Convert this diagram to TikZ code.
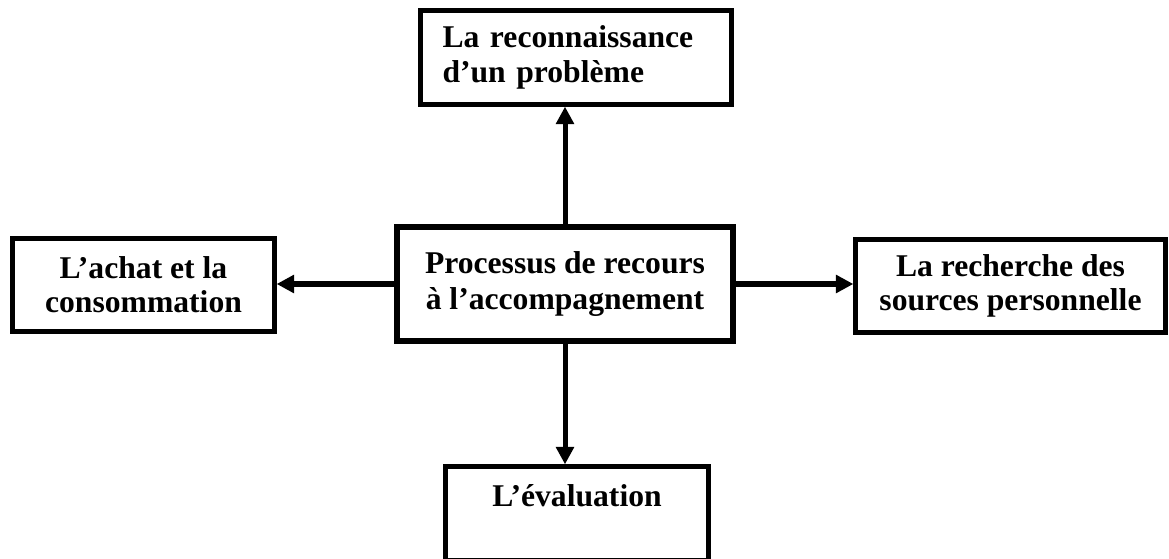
\documentclass[tikz,border=0pt]{standalone}
\usepackage{fontspec}
\setmainfont{Liberation Serif}
\usetikzlibrary{arrows.meta}

\begin{document}
\begin{tikzpicture}[
        stage/.style={draw, line width=2.45pt, inner sep=0pt, align=center,
            font=\bfseries\fontsize{18}{19.5}\selectfont},
        link/.style={line width=2.85pt, -{Triangle[length=10pt, width=10pt]}}
    ]
        \clip (0, 0) rectangle (23.38, 11.16);

        \node[stage, line width=3.1pt, minimum width=6.72cm, minimum height=2.28cm,
            font=\bfseries\fontsize{18}{21}\selectfont] (proc) at (11.30, 5.48) {Processus de recours\\à l’accompagnement};

        \node[stage, align=left, text width=5.34cm, inner xsep=0.44cm, minimum height=1.88cm] (recog) at (11.52, 10.01) {La reconnaissance\\d’un problème};
        \node[stage, minimum width=5.24cm, minimum height=1.86cm] (achat) at (2.87, 5.46) {L’achat et la\\consommation};
        \node[stage, minimum width=6.2cm, minimum height=1.86cm] (rech) at (20.21, 5.44) {La recherche des\\sources personnelle};
        \node[stage, text depth=0.71cm, minimum width=5.26cm, minimum height=1.88cm] (eval) at (11.54, 0.89) {L’évaluation};

        \draw[link] (proc.north) -- (proc.north |- recog.south);
        \draw[link] (proc.west) -- (proc.west -| achat.east);
        \draw[link] (proc.east) -- (proc.east -| rech.west);
        \draw[link] (proc.south) -- (proc.south |- eval.north);
    \end{tikzpicture}
\end{document}
